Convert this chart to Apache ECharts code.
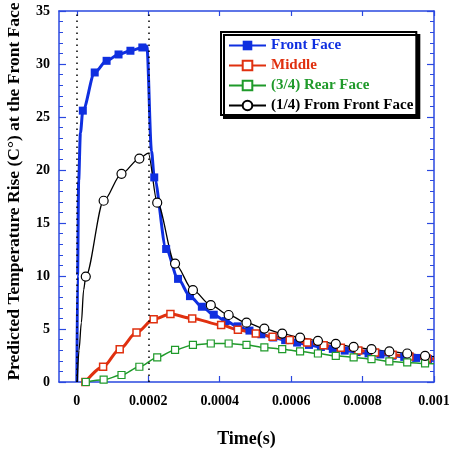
<!DOCTYPE html>
<html>
<head>
<meta charset="utf-8">
<script src="https://cdn.jsdelivr.net/npm/echarts@6/dist/echarts.min.js"></script>
<style>html,body{margin:0;padding:0;background:#fff;}#c{width:449px;height:451px;}</style>
</head>
<body>
<div id="c"></div>
<script>
// ---- data ----
const xTicks = [0, 0.0002, 0.0004, 0.0006, 0.0008, 0.001];
const xTickLabels = ['0', '0.0002', '0.0004', '0.0006', '0.0008', '0.001'];
const seriesNames = ['Front Face', 'Middle', '(3/4) Rear Face', '(1/4) From Front Face'];

// Front Face: marked points
const frontTime = [0.0000167, 0.00005, 0.0000833, 0.0001167, 0.00015, 0.0001833,
  0.0002167, 0.00025, 0.0002833, 0.0003167, 0.00035, 0.0003833, 0.0004167, 0.00045, 0.0004833,
  0.0005167, 0.00055, 0.0005833, 0.0006167, 0.00065, 0.0006833, 0.0007167, 0.00075, 0.0007833,
  0.0008167, 0.00085, 0.0008833, 0.0009167, 0.00095, 0.0009833];
const frontTemp = [25.6, 29.2, 30.3, 30.9, 31.25, 31.56,
  19.3, 12.55, 9.73, 8.1, 7.1, 6.35, 5.75, 5.25, 4.85,
  4.5, 4.2, 3.95, 3.72, 3.5, 3.3, 3.12, 2.96, 2.82,
  2.7, 2.6, 2.48, 2.37, 2.27, 2.17];
// Front Face: unmarked curve points
const frontCurveTime = [0, 0.000002, 0.000005, 0.00001, 0.000196, 0.000209, 0.001];
const frontCurveTemp = [0, 10, 19, 23.5, 31.7, 21.8, 2.12];

// Middle
const midTime = [0.000024, 0.0000735, 0.00012, 0.000167, 0.000215, 0.000262, 0.000323, 0.000404,
  0.000451, 0.000501, 0.000548, 0.000596, 0.000645, 0.000691, 0.000739, 0.000788, 0.000835,
  0.000884, 0.000931, 0.00098];
const midTemp = [0, 1.44, 3.1, 4.66, 5.91, 6.41, 6.0, 5.38,
  4.94, 4.58, 4.27, 3.97, 3.72, 3.47, 3.22, 2.97, 2.79,
  2.56, 2.4, 2.22];
const midCurveTime = [0.001];
const midCurveTemp = [2.18];

// (3/4) Rear Face
const rearTime = [0.000025, 0.000075, 0.000125, 0.000175, 0.000225, 0.000275, 0.000325, 0.000375,
  0.000425, 0.000475, 0.000525, 0.000575, 0.000625, 0.000675, 0.000725, 0.000775, 0.000825,
  0.000875, 0.000925, 0.000975];
const rearTemp = [0, 0.22, 0.66, 1.44, 2.32, 3.03, 3.5, 3.63,
  3.63, 3.5, 3.26, 3.1, 2.88, 2.69, 2.47, 2.32, 2.16,
  1.94, 1.85, 1.75];
const rearCurveTime = [0.001];
const rearCurveTemp = [1.72];

// (1/4) From Front Face
const quarterTime = [0.000025, 0.000075, 0.000125, 0.000175, 0.000225, 0.000275, 0.000325, 0.000375,
  0.000425, 0.000475, 0.000525, 0.000575, 0.000625, 0.000675, 0.000725, 0.000775, 0.000825,
  0.000875, 0.000925, 0.000975];
const quarterTemp = [9.95, 17.1, 19.64, 21.08, 16.92, 11.17, 8.66, 7.25,
  6.32, 5.6, 5.04, 4.57, 4.19, 3.88, 3.6, 3.31, 3.1,
  2.88, 2.69, 2.47];
const quarterCurveTime = [0.000001, 0.000006, 0.0000126, 0.000019, 0.0002, 0.001];
const quarterCurveTemp = [0, 3, 5.6, 8.7, 21.6, 2.4];

// dotted guide lines
const guideTimes = [0, 0.0002];
const yRange = [0, 35];

// ---- build ----
function merge(tm, vm, tc, vc) {
  const pts = [];
  tm.forEach((t, i) => pts.push({ t: t, v: vm[i], m: true }));
  tc.forEach((t, i) => pts.push({ t: t, v: vc[i], m: false }));
  pts.sort((a, b) => a.t - b.t);
  return pts.map(p => p.m ? { value: [p.t, p.v] } : { value: [p.t, p.v], symbol: 'none' });
}
function pairs(t, v) { return t.map((x, i) => [x, v[i]]); }

const FONT = "'Liberation Serif','Times New Roman',serif";
const BLUE = '#0f2fe0';
const RED = '#e0300f';
const GREEN = '#1f9a2a';
const BLACK = '#000000';
const AXIS = '#2a48e0';

const chart = echarts.init(document.getElementById('c'), null, { renderer: 'canvas' });

const xCommon = {
  type: 'value', min: -0.00005, max: 0.001,
  axisLine: { onZero: false, lineStyle: { color: AXIS, width: 1.5 } },
  splitLine: { show: false }
};
const yCommon = {
  type: 'value', min: yRange[0], max: yRange[1], interval: 5,
  axisLine: { onZero: false, lineStyle: { color: AXIS, width: 1.5 } },
  axisTick: { inside: true, length: 7, lineStyle: { color: AXIS, width: 1.2 } },
  minorTick: { show: true, splitNumber: 5, length: 4, lineStyle: { color: AXIS, width: 1 } },
  splitLine: { show: false }
};

chart.setOption({
  animation: false,
  grid: { left: 59, right: 15, top: 11, bottom: 69, outerBoundsMode: 'none' },
  legend: {
    orient: 'vertical', left: 221, top: 32,
    padding: [6, 3, 2, 7], itemGap: 5, itemWidth: 37, itemHeight: 12,
    backgroundColor: '#fff', borderColor: '#000', borderWidth: 2,
    shadowColor: '#000', shadowBlur: 0, shadowOffsetX: 3, shadowOffsetY: 3,
    textStyle: { fontFamily: FONT, fontWeight: 'bold', fontSize: 15 },
    data: [
      { name: seriesNames[0], textStyle: { color: BLUE } },
      { name: seriesNames[1], textStyle: { color: RED } },
      { name: seriesNames[2], textStyle: { color: GREEN } },
      { name: seriesNames[3], textStyle: { color: BLACK } }
    ]
  },
  xAxis: [
    Object.assign({}, xCommon, {
      position: 'bottom',
      axisTick: { inside: true, length: 6, customValues: xTicks, lineStyle: { color: AXIS, width: 1.2 } },
      axisLabel: {
        customValues: xTicks,
        formatter: function (v) {
          let best = 0;
          xTicks.forEach((t, i) => { if (Math.abs(t - v) < Math.abs(xTicks[best] - v)) best = i; });
          return xTickLabels[best];
        },
        margin: 12, color: '#000', fontFamily: FONT, fontWeight: 'bold', fontSize: 14
      },
      name: 'Time(s)', nameLocation: 'middle', nameGap: 48,
      nameTextStyle: { color: '#000', fontFamily: FONT, fontWeight: 'bold', fontSize: 18 }
    }),
    Object.assign({}, xCommon, {
      position: 'top',
      axisTick: { inside: true, length: 5, customValues: xTicks, lineStyle: { color: AXIS, width: 1.2 } },
      axisLabel: { show: false }
    })
  ],
  yAxis: [
    Object.assign({}, yCommon, {
      position: 'left',
      axisLabel: { margin: 9, color: '#000', fontFamily: FONT, fontWeight: 'bold', fontSize: 14 },
      name: 'Predicted Temperature Rise (C\u00B0) at the Front Face',
      nameLocation: 'middle', nameGap: 36, nameRotate: 90,
      nameTextStyle: { color: '#000', fontFamily: FONT, fontWeight: 'bold', fontSize: 17.5, padding: [0, 0, 0, 10] }
    }),
    Object.assign({}, yCommon, {
      position: 'right',
      axisLabel: { show: false }
    })
  ],
  series: [
    {
      name: seriesNames[0], type: 'line', smooth: 0.3, smoothMonotone: 'x',
      data: merge(frontTime, frontTemp, frontCurveTime, frontCurveTemp),
      symbol: 'rect', symbolSize: 8,
      itemStyle: { color: BLUE },
      lineStyle: { color: BLUE, width: 3 },
      markLine: {
        silent: true, symbol: ['none', 'none'], label: { show: false },
        lineStyle: { color: '#000', width: 1.5, type: [1.5, 4.5] },
        data: guideTimes.map(t => [{ coord: [t, yRange[0]] }, { coord: [t, yRange[1]] }])
      }
    },
    {
      name: seriesNames[1], type: 'line', smooth: 0.3, smoothMonotone: 'x',
      data: merge(midTime, midTemp, midCurveTime, midCurveTemp),
      symbol: 'rect', symbolSize: 7,
      itemStyle: { color: '#fff', borderColor: RED, borderWidth: 1.5 },
      lineStyle: { color: RED, width: 3 }
    },
    {
      name: 'midDots', type: 'scatter', data: pairs(midTime, midTemp),
      symbol: 'rect', symbolSize: 2, itemStyle: { color: RED }, silent: true
    },
    {
      name: seriesNames[2], type: 'line', smooth: 0.3, smoothMonotone: 'x',
      data: merge(rearTime, rearTemp, rearCurveTime, rearCurveTemp),
      symbol: 'rect', symbolSize: 7,
      itemStyle: { color: '#fff', borderColor: GREEN, borderWidth: 1.2 },
      lineStyle: { color: GREEN, width: 1.5 }
    },
    {
      name: seriesNames[3], type: 'line', smooth: 0.3, smoothMonotone: 'x',
      data: merge(quarterTime, quarterTemp, quarterCurveTime, quarterCurveTemp),
      symbol: 'circle', symbolSize: 9,
      itemStyle: { color: '#fff', borderColor: BLACK, borderWidth: 1.2 },
      lineStyle: { color: BLACK, width: 1.3 }
    },
    {
      name: 'quarterDots', type: 'scatter', data: pairs(quarterTime, quarterTemp),
      symbol: 'circle', symbolSize: 2, itemStyle: { color: BLACK }, silent: true
    }
  ]
});
</script>
</body>
</html>
